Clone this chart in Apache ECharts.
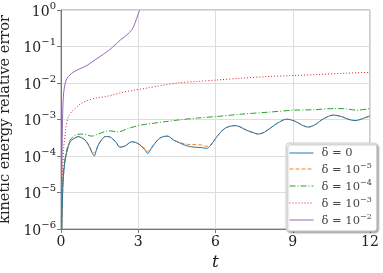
<!DOCTYPE html>
<html><head><meta charset="utf-8">
<script src="https://cdn.jsdelivr.net/npm/echarts@6/dist/echarts.min.js"></script>
<style>html,body{margin:0;padding:0;background:#fff}#c{width:383px;height:273px}</style>
</head><body><div id="c"></div>
<script>
const xTicks = [0, 3, 6, 9, 12];
const yTickExps = [0, -1, -2, -3, -4, -5, -6];
const seriesNames = ['δ = 0', 'δ = 10^-5', 'δ = 10^-4', 'δ = 10^-3', 'δ = 10^-2'];

const tD0 = [0.03, 0.08, 0.16, 0.25, 0.35, 0.5, 0.67, 0.8, 0.93, 1.05, 1.13, 1.22, 1.29, 1.37, 1.45, 1.58, 1.71, 1.85, 1.97, 2.13, 2.29, 2.5, 2.74, 2.9, 3.07, 3.25, 3.37, 3.5, 3.65, 3.8, 3.97, 4.15, 4.36, 4.6, 4.88, 5.2, 5.45, 5.66, 5.8, 6.0, 6.2, 6.37, 6.55, 6.76, 6.95, 7.2, 7.45, 7.66, 7.9, 8.12, 8.4, 8.76, 9.1, 9.35, 9.6, 9.85, 10.2, 10.57, 10.9, 11.15, 11.42, 11.7, 12];
const vD0 = [1e-6, 2e-5, 7.8e-5, 1.5e-4, 2.45e-4, 3.0e-4, 3.4e-4, 3.16e-4, 2.75e-4, 2.1e-4, 1.62e-4, 1.17e-4, 1.0e-4, 1.41e-4, 2.0e-4, 2.8e-4, 3.4e-4, 3.4e-4, 3.1e-4, 2.4e-4, 1.74e-4, 1.9e-4, 2.45e-4, 2.35e-4, 2.0e-4, 1.5e-4, 1.17e-4, 1.58e-4, 2.24e-4, 2.95e-4, 3.4e-4, 3.5e-4, 2.75e-4, 2.3e-4, 1.9e-4, 1.74e-4, 1.7e-4, 1.62e-4, 1.9e-4, 3.0e-4, 4.5e-4, 5.75e-4, 6.5e-4, 6.8e-4, 6.3e-4, 5.1e-4, 4.4e-4, 4.0e-4, 4.5e-4, 5.75e-4, 7.9e-4, 1.02e-3, 8.9e-4, 7.1e-4, 6.2e-4, 7.1e-4, 1.05e-3, 1.32e-3, 1.2e-3, 1.02e-3, 9.3e-4, 1.05e-3, 1.26e-3];

const tD5 = tD0;
const vD5 = [1e-6, 2e-5, 7.8e-5, 1.5e-4, 2.45e-4, 3.0e-4, 3.4e-4, 3.16e-4, 2.75e-4, 2.15e-4, 1.7e-4, 1.3e-4, 1.2e-4, 1.5e-4, 2.05e-4, 2.8e-4, 3.4e-4, 3.4e-4, 3.1e-4, 2.4e-4, 1.76e-4, 1.9e-4, 2.45e-4, 2.35e-4, 2.02e-4, 1.6e-4, 1.35e-4, 1.65e-4, 2.26e-4, 2.95e-4, 3.4e-4, 3.5e-4, 2.8e-4, 2.35e-4, 2.1e-4, 2.05e-4, 2.0e-4, 1.85e-4, 2.0e-4, 3.0e-4, 4.5e-4, 5.75e-4, 6.5e-4, 6.8e-4, 6.3e-4, 5.1e-4, 4.4e-4, 4.0e-4, 4.5e-4, 5.75e-4, 7.9e-4, 1.02e-3, 8.9e-4, 7.1e-4, 6.2e-4, 7.1e-4, 1.05e-3, 1.32e-3, 1.2e-3, 1.02e-3, 9.3e-4, 1.05e-3, 1.26e-3];

const tD4 = [0.03, 0.09, 0.22, 0.35, 0.5, 0.65, 0.87, 1.05, 1.19, 1.45, 1.84, 2.23, 2.61, 3.13, 3.6, 4.04, 4.62, 5.3, 6.0, 7.0, 8.12, 9.02, 9.8, 10.64, 11.1, 11.48, 12];
const vD4 = [1e-6, 3.4e-5, 1.45e-4, 2.7e-4, 3.5e-4, 3.9e-4, 4.0e-4, 3.7e-4, 3.5e-4, 4.0e-4, 4.9e-4, 4.6e-4, 5.7e-4, 7.1e-4, 7.9e-4, 8.7e-4, 9.8e-4, 1.1e-3, 1.2e-3, 1.4e-3, 1.6e-3, 1.8e-3, 1.85e-3, 2.0e-3, 1.95e-3, 1.8e-3, 2.0e-3];

const tD3 = [0.02, 0.06, 0.1, 0.18, 0.26, 0.4, 0.61, 0.8, 1.06, 1.4, 1.71, 2.0, 2.36, 2.8, 3.26, 3.9, 4.62, 5.3, 6.0, 7.0, 8.0, 9.02, 10.0, 11.0, 12];
const vD3 = [1e-6, 2e-5, 1.5e-4, 5e-4, 1.07e-3, 1.6e-3, 2.2e-3, 2.8e-3, 3.4e-3, 3.9e-3, 4.2e-3, 4.7e-3, 5.5e-3, 6.3e-3, 7.1e-3, 8.5e-3, 1.02e-2, 1.1e-2, 1.2e-2, 1.35e-2, 1.5e-2, 1.6e-2, 1.7e-2, 1.85e-2, 1.96e-2];

const tD2 = [0.02, 0.04, 0.06, 0.1, 0.2, 0.4, 0.7, 1.0, 1.4, 1.7, 2.0, 2.3, 2.6, 2.8, 3.05];
const vD2 = [1e-6, 1e-4, 1e-3, 5e-3, 1.2e-2, 1.8e-2, 2.4e-2, 3e-2, 4.7e-2, 6.5e-2, 9.5e-2, 0.15, 0.22, 0.33, 1.0];

const colors = ['#1f77b4', '#ff7f0e', '#2ca02c', '#d62728', '#9467bd'];
const dashes = ['solid', [4, 2], [6, 2, 1, 2], [1, 2], 'solid'];
const allT = [tD0, tD5, tD4, tD3, tD2];
const allV = [vD0, vD5, vD4, vD3, vD2];

const serif = '"DejaVu Serif", "Liberation Serif", serif';

function supText(s) {
  const i = s.indexOf('^');
  if (i < 0) return '{b|' + s + '}';
  return '{b|' + s.slice(0, i) + '}{s|' + s.slice(i + 1).replace('-', '\u2212') + '}';
}

const chart = echarts.init(document.getElementById('c'), null, {renderer: 'canvas'});
chart.setOption({
  animation: false,
  grid: {left: 61, right: 13, top: 10, bottom: 44, show: true, borderColor: '#999', borderWidth: 1,
    containLabel: false, outerBoundsMode: 'none'},
  xAxis: {
    type: 'value', min: 0, max: 12, interval: 3,
    name: 't', nameLocation: 'middle', nameGap: 22,
    nameTextStyle: {fontFamily: serif, fontStyle: 'italic', fontSize: 17, color: '#222'},
    axisLine: {lineStyle: {color: '#777'}},
    axisTick: {show: true, length: 4, lineStyle: {color: '#777'}},
    axisLabel: {fontFamily: serif, fontSize: 14, color: '#222', margin: 6,
      formatter: v => xTicks.includes(v) ? String(v) : ''},
    splitLine: {lineStyle: {color: '#ddd'}}
  },
  yAxis: {
    type: 'log', logBase: 10, min: 1e-6, max: 1,
    name: 'kinetic energy relative error', nameLocation: 'middle', nameGap: 45, nameRotate: 90,
    nameTextStyle: {fontFamily: serif, fontSize: 14.5, color: '#222'},
    axisLine: {lineStyle: {color: '#777'}},
    axisTick: {show: true, length: 4, lineStyle: {color: '#777'}},
    axisLabel: {fontFamily: serif, color: '#222', margin: 5,
      formatter: v => {
        const e = Math.round(Math.log10(v));
        if (!yTickExps.includes(e)) return '';
        return '{b|10}{s|' + (e < 0 ? '\u2212' + (-e) : e) + '}';
      },
      rich: {
        b: {fontFamily: serif, fontSize: 14, color: '#222', verticalAlign: 'bottom'},
        s: {fontFamily: serif, fontSize: 10, color: '#222', verticalAlign: 'bottom', padding: [0, 0, 8, 0]}
      }
    },
    splitLine: {lineStyle: {color: '#ddd'}}
  },
  legend: {
    orient: 'vertical', left: 286, top: 143,
    itemWidth: 24, itemHeight: 10, itemGap: 3,
    padding: [4, 5, 4, 3],
    backgroundColor: '#fff', borderColor: '#ccc', borderWidth: 1, borderRadius: 3,
    shadowColor: 'rgba(0,0,0,0.35)', shadowBlur: 2, shadowOffsetX: 1.5, shadowOffsetY: 1.5,
    itemStyle: {opacity: 0},
    lineStyle: {width: 1},
    data: seriesNames,
    formatter: name => supText(name),
    textStyle: {
      padding: [0, 0, 0, 3],
      rich: {
        b: {fontFamily: serif, fontSize: 11.5, color: '#444', verticalAlign: 'bottom', height: 12},
        s: {fontFamily: serif, fontSize: 8, color: '#444', verticalAlign: 'bottom', padding: [0, 0, 6, 0]}
      }
    }
  },
  series: seriesNames.map((n, k) => ({
    name: n, type: 'line', symbol: 'none', smooth: 0.3, clip: true,
    data: allT[k].map((t, i) => [t, allV[k][i]]),
    lineStyle: {color: colors[k], width: 1, type: dashes[k]},
    itemStyle: {color: colors[k]},
    z: 10 - k
  }))
});
</script></body></html>
